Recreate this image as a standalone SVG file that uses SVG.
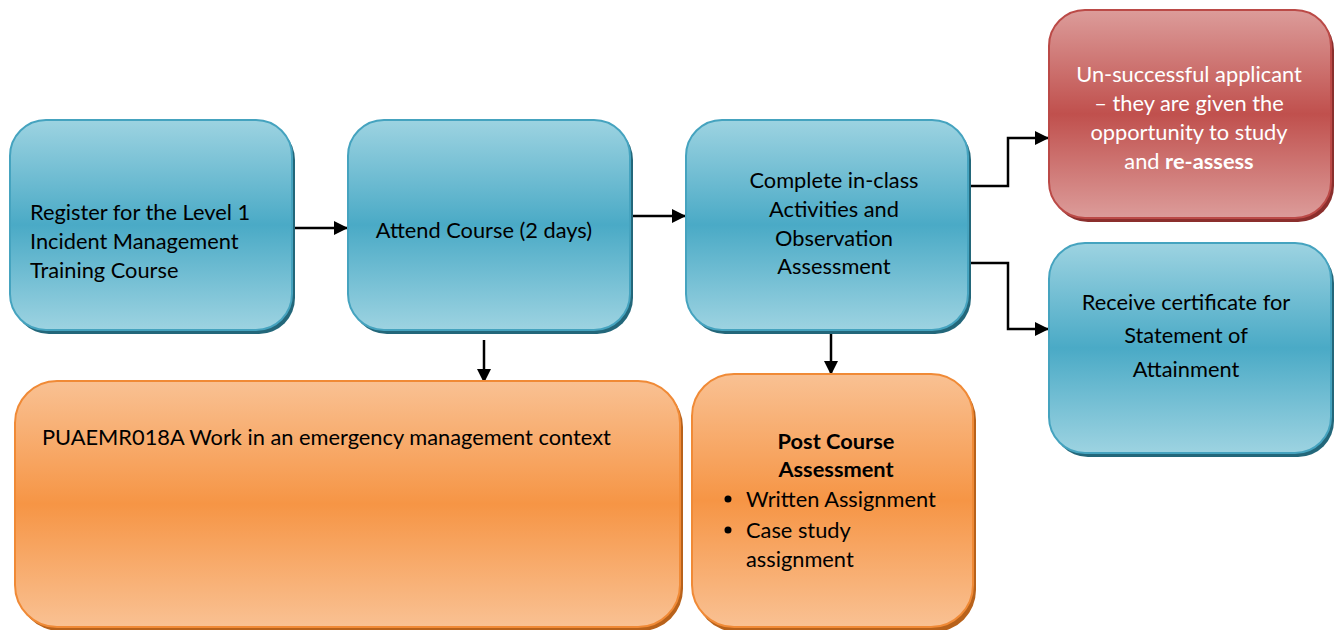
<svg xmlns="http://www.w3.org/2000/svg" width="1337" height="630" viewBox="0 0 1337 630">
<defs>
<linearGradient id="gBlue" x1="0" y1="0" x2="0" y2="1">
<stop offset="0" stop-color="#9dd3e1"/><stop offset="0.5" stop-color="#4aaac6"/><stop offset="1" stop-color="#9dd3e1"/>
</linearGradient>
<linearGradient id="gRed" x1="0" y1="0" x2="0" y2="1">
<stop offset="0" stop-color="#dc9c9a"/><stop offset="0.5" stop-color="#c0504d"/><stop offset="1" stop-color="#dc9c9a"/>
</linearGradient>
<linearGradient id="gOrange" x1="0" y1="0" x2="0" y2="1">
<stop offset="0" stop-color="#f9c193"/><stop offset="0.5" stop-color="#f69545"/><stop offset="1" stop-color="#f9c193"/>
</linearGradient>
<marker id="arr" markerWidth="14" markerHeight="14" refX="13" refY="7" orient="auto" markerUnits="userSpaceOnUse" viewBox="0 0 14 14">
<path d="M0,0 L14,7 L0,14 z" fill="#000"/>
</marker>
</defs>
<style>
.blue{fill:url(#gBlue);stroke:#45a3bf;stroke-width:2}
.bshad{fill:#23677a}
.red{fill:url(#gRed);stroke:#bb4a47;stroke-width:2}
.rshad{fill:#8b2f2d}
.org{fill:url(#gOrange);stroke:#f08a36;stroke-width:2}
.oshad{fill:#b8621b}
text{font-family:"Lato","Open Sans","Liberation Sans",sans-serif;font-size:21.8px;fill:#000}
.c{text-anchor:middle}
.w{fill:#fff}
.b{font-weight:bold}
.conn{fill:none;stroke:#000;stroke-width:2.5;marker-end:url(#arr)}
</style>
<rect width="1337" height="630" fill="#fff"/>

<g id="connectors">
<line class="conn" x1="292" y1="228" x2="347" y2="228"/>
<line class="conn" x1="630" y1="216" x2="685" y2="216"/>
<polyline class="conn" points="967,186 1008,186 1008,138 1048,138"/>
<polyline class="conn" points="967,263 1008,263 1008,329 1048,329"/>
<line class="conn" x1="484" y1="340" x2="484" y2="382"/>
<line class="conn" x1="831" y1="334" x2="831" y2="374"/>
</g>

<g id="node-register">
<rect class="bshad" x="13" y="124" width="282" height="210" rx="36"/>
<rect class="blue" x="10" y="120" width="282" height="210" rx="36"/>
<text x="30" y="220">Register for the Level 1</text>
<text x="30" y="249">Incident Management</text>
<text x="30" y="278">Training Course</text>
</g>

<g id="node-attend">
<rect class="bshad" x="351" y="124" width="282" height="210" rx="36"/>
<rect class="blue" x="348" y="120" width="282" height="210" rx="36"/>
<text class="c" x="484" y="238">Attend Course (2 days)</text>
</g>

<g id="node-complete">
<rect class="bshad" x="689" y="124" width="282" height="210" rx="36"/>
<rect class="blue" x="686" y="120" width="282" height="210" rx="36"/>
<text class="c" x="834" y="188">Complete in-class</text>
<text class="c" x="834" y="217">Activities and</text>
<text class="c" x="834" y="246">Observation</text>
<text class="c" x="834" y="274">Assessment</text>
</g>

<g id="node-unsuccessful">
<rect class="rshad" x="1052" y="14" width="282" height="208" rx="36"/>
<rect class="red" x="1049" y="10" width="282" height="208" rx="36"/>
<text class="c w" x="1189" y="82">Un-successful applicant</text>
<text class="c w" x="1189" y="111">– they are given the</text>
<text class="c w" x="1189" y="140">opportunity to study</text>
<text class="c w" x="1189" y="169">and <tspan class="b w">re-assess</tspan></text>
</g>

<g id="node-receive">
<rect class="bshad" x="1052" y="247" width="282" height="210" rx="36"/>
<rect class="blue" x="1049" y="243" width="282" height="210" rx="36"/>
<text class="c" x="1186" y="310">Receive certificate for</text>
<text class="c" x="1186" y="343">Statement of</text>
<text class="c" x="1186" y="377">Attainment</text>
</g>

<g id="node-puaemr">
<rect class="oshad" x="18" y="385" width="665" height="246" rx="42"/>
<rect class="org" x="15" y="381" width="665" height="246" rx="42"/>
<text x="42" y="445">PUAEMR018A Work in an emergency management context</text>
</g>

<g id="node-post">
<rect class="oshad" x="695" y="378" width="281" height="254" rx="42"/>
<rect class="org" x="692" y="374" width="281" height="253" rx="42"/>
<text class="c b" x="836" y="449">Post Course</text>
<text class="c b" x="836" y="477">Assessment</text>
<circle cx="728" cy="499" r="3.5" fill="#000"/>
<text x="746" y="507">Written Assignment</text>
<circle cx="728" cy="530" r="3.5" fill="#000"/>
<text x="746" y="538">Case study</text>
<text x="746" y="567">assignment</text>
</g>
</svg>
